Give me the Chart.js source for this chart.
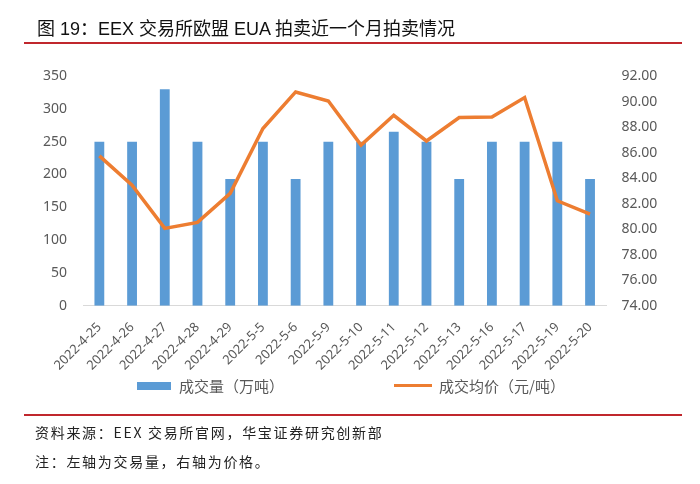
<!DOCTYPE html>
<html>
<head>
<meta charset="utf-8">
<script src="https://cdn.jsdelivr.net/npm/chart.js@4/dist/chart.umd.min.js"></script>
<style>
  html, body { margin: 0; padding: 0; background: #fff; }
  #wrap { position: relative; width: 700px; height: 484px; overflow: hidden; }
  #c { position: absolute; left: 0; top: 0; }
  .t { position: absolute; white-space: nowrap; }
  #title { left: 37px; top: 19px; font: 18px/20px "Liberation Sans", "Noto Sans CJK SC", sans-serif; color: #111; }
  .rule { position: absolute; left: 24px; width: 658px; height: 2px; background: #C0272D; }
  .foot { left: 35px; font: 14px/18px "Noto Sans CJK SC", "Liberation Sans", sans-serif; color: #222; letter-spacing: 1.7px; }
  .leg { font: 15px/18px "Noto Sans CJK SC", sans-serif; color: #595959; }
  .sw { position: absolute; }
</style>
</head>
<body>
<div id="wrap">
  <canvas id="c" width="700" height="484"></canvas>
  <div id="title" class="t">图 19：EEX 交易所欧盟 EUA 拍卖近一个月拍卖情况</div>
  <div class="rule" style="top:42px"></div>
  <div class="sw" style="left:137px; top:382px; width:34px; height:8px; background:#5B9BD5"></div>
  <div class="t leg" id="leg1" style="left:179px; top:377px"></div>
  <div class="sw" style="left:394px; top:384px; width:38px; height:3px; background:#ED7D31"></div>
  <div class="t leg" id="leg2" style="left:439px; top:377px"></div>
  <div class="rule" style="top:414px"></div>
  <div class="t foot" style="top:423px">资料来源：EEX 交易所官网，华宝证券研究创新部</div>
  <div class="t foot" style="top:452px">注：左轴为交易量，右轴为价格。</div>
</div>
<script>
const categories = ["2022-4-25","2022-4-26","2022-4-27","2022-4-28","2022-4-29","2022-5-5","2022-5-6","2022-5-9","2022-5-10","2022-5-11","2022-5-12","2022-5-13","2022-5-16","2022-5-17","2022-5-19","2022-5-20"];
const volumeName = "成交量（万吨）";
const priceName = "成交均价（元/吨）";
const volume = [250, 250, 330, 250, 193, 250, 193, 250, 250, 265, 250, 193, 250, 250, 250, 193];
const price = [85.74, 83.45, 80.06, 80.53, 82.80, 87.88, 90.75, 90.04, 86.58, 88.92, 86.91, 88.74, 88.79, 90.31, 82.22, 81.18];
const leftTicks = [0, 350, 50];
const rightTicks = [74, 92, 2];

document.getElementById('leg1').textContent = volumeName;
document.getElementById('leg2').textContent = priceName;

const tickFont = { family: "'Noto Sans', 'Noto Sans CJK SC', sans-serif", size: 14 };
new Chart(document.getElementById('c'), {
  data: {
    labels: categories,
    datasets: [
      { type: 'line', label: priceName, data: price, yAxisID: 'y1', borderColor: '#ED7D31', backgroundColor: '#ED7D31', borderWidth: 3.5, pointRadius: 0, tension: 0, order: 1 },
      { type: 'bar', label: volumeName, data: volume, yAxisID: 'y', backgroundColor: '#5B9BD5', barPercentage: 0.3, categoryPercentage: 1, order: 2 }
    ]
  },
  options: {
    responsive: false,
    animation: false,
    devicePixelRatio: 1,
    layout: { padding: { top: 76, left: 0, right: 0, bottom: 78.3 } },
    plugins: { legend: { display: false }, tooltip: { enabled: false }, title: { display: false } },
    scales: {
      x: {
        grid: { display: false },
        border: { display: true, color: '#D9D9D9', width: 1 },
        ticks: { autoSkip: false, minRotation: 45, maxRotation: 45, color: '#595959', font: { family: tickFont.family, size: 13 }, padding: 6 },
        afterFit: s => { s.height = 100; }
      },
      y: {
        position: 'left', min: leftTicks[0], max: leftTicks[1],
        grid: { display: false, drawTicks: false }, border: { display: false },
        ticks: { stepSize: leftTicks[2], color: '#595959', font: tickFont, padding: 16 },
        afterFit: s => { s.width = 83; }
      },
      y1: {
        position: 'right', min: rightTicks[0], max: rightTicks[1],
        grid: { display: false, drawTicks: false }, border: { display: false },
        ticks: { stepSize: rightTicks[2], color: '#595959', font: tickFont, padding: 15, callback: v => Number(v).toFixed(2) },
        afterFit: s => { s.width = 93.6; }
      }
    }
  }
});
</script>
</body>
</html>
